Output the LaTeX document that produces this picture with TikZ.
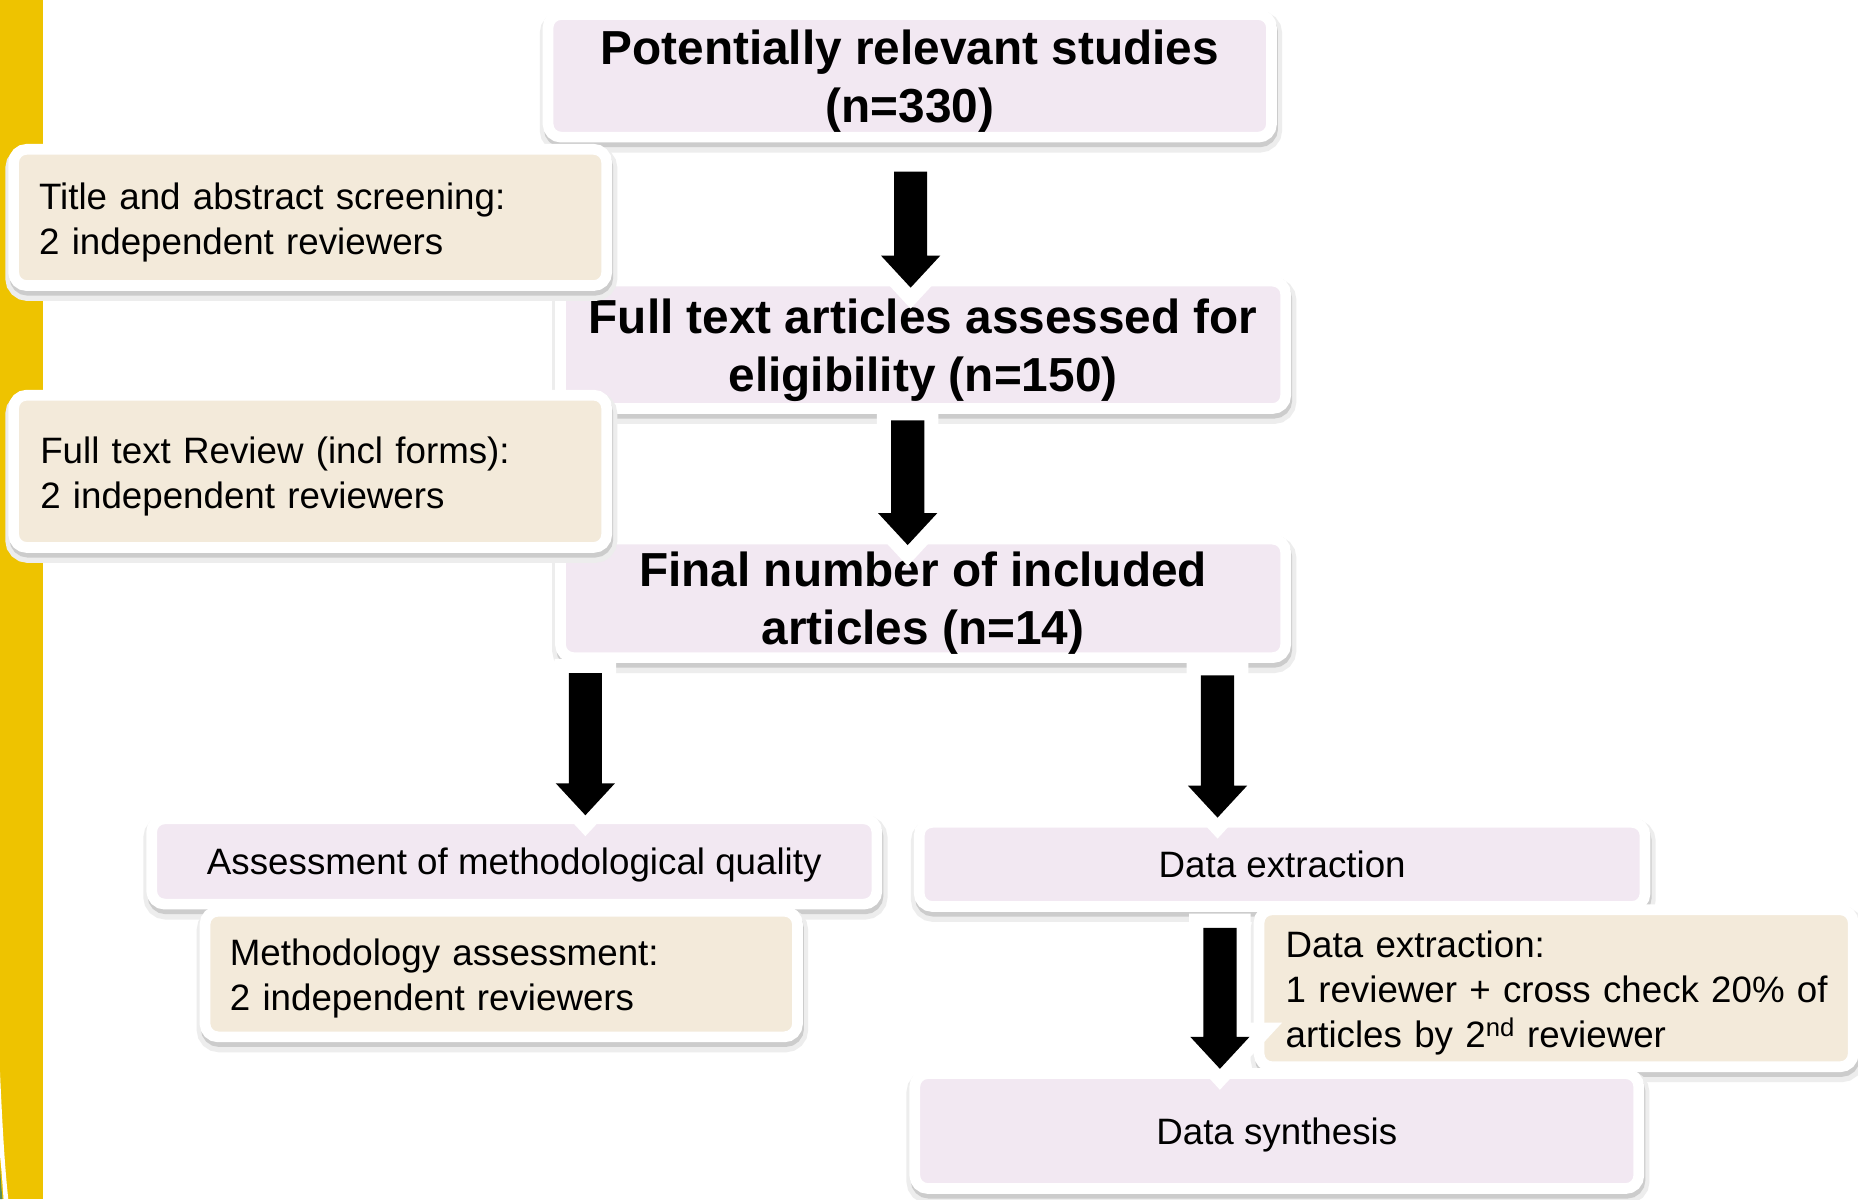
\documentclass[tikz,border=0pt]{standalone}
\usepackage{fontspec}
\setmainfont{Liberation Sans}
\usetikzlibrary{calc}
\definecolor{pinkfill}{RGB}{242,232,242}
\definecolor{beigefill}{RGB}{243,234,218}
\definecolor{baryellow}{RGB}{238,195,0}
\definecolor{leafgreen}{RGB}{90,140,90}
\tikzset{
  boxbase/.style={draw=white, line width=9pt, rounded corners=11pt, inner sep=0pt, outer sep=0pt, text=black,
    preaction={draw=black!7, line width=16pt, transform canvas={xshift=1pt,yshift=-5pt}},
    preaction={draw=black!20, line width=9pt, transform canvas={xshift=1pt,yshift=-4pt}}},
  mainbox/.style={boxbase, text depth=0pt, fill=pinkfill, align=center, font=\fontsize{40.3}{49}\selectfont\bfseries},
  stepbox/.style={boxbase, text depth=0pt, fill=pinkfill, align=center, font=\fontsize{31}{38}\selectfont},
  notebox/.style={boxbase, text depth=36.5pt, fill=beigefill, align=left, font=\fontsize{31}{38}\selectfont},
  bigarr/.style={fill=black, line join=miter, preaction={draw=white, fill=white, line width=24pt, line join=miter}},
}
\newcommand{\flowarrow}[2]{%
  \path[bigarr] let \p1=(#1), \p2=(#2) in
    (\x1-14pt,\y1) -- (\x1+14pt,\y1) -- (\x1+14pt,\y2+27pt) -- (\x1+25pt,\y2+27pt)
    -- (\x1,\y2) -- (\x1-25pt,\y2+27pt) -- (\x1-14pt,\y2+27pt) -- cycle;}
\hbadness=10000 \hfuzz=100pt
\begin{document}
\begin{tikzpicture}[x=1pt,y=-1pt]
\useasboundingbox (0,0) rectangle (1568,1012);
\fill[white] (0,0) rectangle (1568,1012);
% yellow side bar
\fill[baryellow] (0,0) rectangle (36,1012);
\fill[white] (0,905) .. controls (2,950) and (4,985) .. (7,1012) -- (3,1012) .. controls (1.5,990) .. (0,975) -- cycle;
\fill[leafgreen] (0,985) .. controls (1,1000) .. (2,1012) -- (0,1012) -- cycle;

% main flow boxes
\node[mainbox, minimum width=610.5pt, minimum height=103.5pt] (pot) at (767.75,64)
  {Potentially relevant studies\\(n=330)};
\node[mainbox, minimum width=612pt, minimum height=107.5pt] (full) at (779,291)
  {Full text articles assessed for\\eligibility (n=150)};
\node[mainbox, minimum width=612pt, minimum height=100pt] (fin) at (779,505)
  {Final number of included\\articles (n=14)};

% reviewer notes (left)
\node[notebox, minimum width=500.5pt, minimum height=115pt, text width=457.5pt] (tas) at (261.75,183.5)
  {Title and abstract screening:\\2 independent reviewers};
\node[notebox, minimum width=500.5pt, minimum height=128.5pt, text width=455.5pt] (ftr) at (261.75,397.75)
  {Full text Review (incl forms):\\2 independent reviewers};

% lower steps
\node[stepbox, minimum width=612pt, minimum height=72pt] (assess) at (434,727)
  {Assessment of methodological quality};
\node[stepbox, minimum width=612.5pt, minimum height=71pt] (dext) at (1082,729.5)
  {Data extraction};
\node[notebox, minimum width=500pt, minimum height=106pt, text width=458pt] (meth) at (423,822)
  {Methodology assessment:\\2 independent reviewers};
\node[notebox, text depth=74.5pt, minimum width=501.5pt, minimum height=132.5pt, text width=456.5pt] (dexn) at (1313.25,834)
  {Data extraction:\\\mbox{1 reviewer + cross check 20\% of}\\articles by 2\textsuperscript{nd} reviewer};
\node[stepbox, minimum width=611pt, minimum height=97pt] (syn) at (1077.5,954.5)
  {Data synthesis};

% arrow end points
\coordinate (a1s) at ($(pot.south)+(0.75,29)$);
\coordinate (a1e) at ($(a1s |- full.north)+(0,5.5)$);
\coordinate (a2s) at ($(full.south)+(-13,10)$);
\coordinate (a2e) at ($(a2s |- fin.north)+(0,5)$);
\coordinate (a3s) at ($(fin.south)+(-285,13)$);
\coordinate (a3e) at ($(a3s |- assess.north)+(0,-3)$);
\coordinate (a4s) at ($(fin.south)+(248.5,15)$);
\coordinate (a4e) at ($(a4s |- dext.north)+(0,-4)$);
\coordinate (a5s) at ($(dext.south)+(-52.5,18)$);
\coordinate (a5e) at ($(a5s |- syn.north)+(0,-4)$);

\flowarrow{a1s}{a1e}
\flowarrow{a2s}{a2e}
\flowarrow{a3s}{a3e}
\flowarrow{a4s}{a4e}
\flowarrow{a5s}{a5e}
\end{tikzpicture}
\end{document}
